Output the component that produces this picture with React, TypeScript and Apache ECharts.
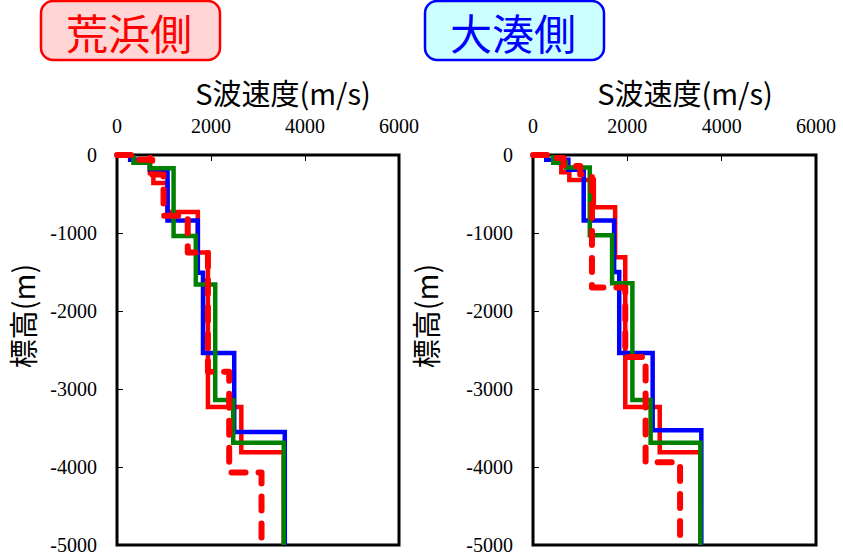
import React, { useEffect, useRef } from "react";
import * as echarts from "echarts";

// ---- data (depth boundaries in m, S-wave velocity in m/s) ----
const xTickValues = [0, 2000, 4000, 6000];
const yTickValues = [0, -1000, -2000, -3000, -4000, -5000];

// 荒浜側
const leftBlueDepths = [0, -60, -190, -840, -1510, -2540, -3550, -5000];
const leftBlueVel = [280, 700, 1075, 1720, 1830, 2494, 3570];
const leftGreenDepths = [0, -100, -170, -1040, -1660, -3140, -3690, -5000];
const leftGreenVel = [350, 700, 1204, 1677, 2090, 2473, 3548];
const leftRedDepths = [0, -230, -360, -730, -1250, -3230, -3810, -5000];
const leftRedVel = [700, 774, 1075, 1720, 1935, 2645, 3548];
const leftRedDashDepths = [0, -60, -250, -780, -1250, -2780, -4070, -5000];
const leftRedDashVel = [400, 750, 990, 1505, 1935, 2387, 3075];

// 大湊側
const rightBlueDepths = [0, -60, -190, -840, -1500, -2540, -3530, -5000];
const rightBlueVel = [280, 750, 1075, 1720, 1828, 2537, 3569];
const rightGreenDepths = [0, -100, -160, -1030, -1645, -3140, -3690, -5000];
const rightGreenVel = [430, 700, 1204, 1677, 2107, 2494, 3548];
const rightRedDepths = [0, -220, -320, -670, -1310, -3230, -3810, -5000];
const rightRedVel = [600, 770, 1290, 1741, 1956, 2687, 3548];
const rightRedDashDepths = [0, -40, -140, -250, -1700, -2590, -3940, -5000];
const rightRedDashVel = [350, 650, 1000, 1250, 1956, 2387, 3118];

function steps(depths: number[], vel: number[], fromOrigin = false) {
  const pts: number[][] = [];
  if (fromOrigin) pts.push([0, 0]);
  for (let i = 0; i < vel.length; i++) {
    pts.push([vel[i], depths[i]]);
    pts.push([vel[i], depths[i + 1]]);
  }
  return pts;
}

const serifFont = "Liberation Serif";
const jpFont = "Noto Sans CJK JP";

export default function App() {
  const ref = useRef<HTMLDivElement>(null);
  useEffect(() => {
    if (!ref.current) return;
    const chart = echarts.init(ref.current, undefined, { renderer: "svg" });

    const grids = [
      { left: 117, top: 155, width: 282, height: 390 },
      { left: 533, top: 155, width: 283, height: 390 },
    ];

    const xAxes = grids.map((_, i) => ({
      type: "value",
      gridIndex: i,
      position: "top",
      min: 0,
      max: 6000,
      interval: 2000,
      axisLine: { show: false },
      axisTick: { show: true, inside: true, length: 6, lineStyle: { color: "#000", width: 1 } },
      axisLabel: {
        show: true,
        margin: 19,
        color: "#000",
        fontSize: 20,
        fontFamily: serifFont,
        formatter: (v: number) => (xTickValues.includes(v) ? String(v) : ""),
      },
      splitLine: { show: false },
    }));

    const yAxes = grids.map((_, i) => ({
      type: "value",
      gridIndex: i,
      min: -5000,
      max: 0,
      interval: 1000,
      axisLine: { show: false },
      axisTick: { show: true, inside: true, length: 6, lineStyle: { color: "#000", width: 1 } },
      axisLabel: {
        show: true,
        margin: 20,
        color: "#000",
        fontSize: 20,
        fontFamily: serifFont,
        formatter: (v: number) => (yTickValues.includes(v) ? String(v) : ""),
      },
      splitLine: { show: false },
    }));

    const solid = (color: string, width = 4.5) => ({
      color,
      width,
      type: "solid",
      join: "miter",
      cap: "butt",
    });
    const dashed = {
      color: "#FF0000",
      width: 6,
      type: [14, 13],
      cap: "round",
      join: "round",
    };

    const mk = (idx: number, data: number[][], lineStyle: any, z: number) => ({
      type: "line",
      xAxisIndex: idx,
      yAxisIndex: idx,
      data,
      showSymbol: false,
      symbol: "none",
      lineStyle,
      z,
      silent: true,
    });

    const series = [
      mk(0, steps(leftRedDepths, leftRedVel), solid("#FF0000"), 2),
      mk(0, steps(leftBlueDepths, leftBlueVel), solid("#0000FF"), 3),
      mk(0, steps(leftGreenDepths, leftGreenVel), solid("#008000"), 4),
      mk(0, steps(leftRedDashDepths, leftRedDashVel, true), dashed, 5),
      mk(1, steps(rightRedDepths, rightRedVel), solid("#FF0000"), 2),
      mk(1, steps(rightBlueDepths, rightBlueVel), solid("#0000FF"), 3),
      mk(1, steps(rightGreenDepths, rightGreenVel), solid("#008000"), 4),
      mk(1, steps(rightRedDashDepths, rightRedDashVel, true), dashed, 5),
    ];

    const titleStyle = (text: string) => ({
      text,
      fill: "#000",
      fontSize: 29,
      fontFamily: jpFont,
      align: "center",
      verticalAlign: "middle",
    });

    chart.setOption({
      animation: false,
      backgroundColor: "#fff",
      grid: grids.map((g) => ({
        ...g,
        show: true,
        borderColor: "#000",
        borderWidth: 3,
        backgroundColor: "transparent",
      })),
      xAxis: xAxes,
      yAxis: yAxes,
      series,
      graphic: [
        {
          type: "rect",
          shape: { x: 41, y: 1, width: 179, height: 59, r: 12 },
          style: { fill: "#FFD5D5", stroke: "#FF0000", lineWidth: 2.5 },
        },
        {
          type: "text",
          x: 129,
          y: 31,
          style: {
            text: "荒浜側",
            fill: "#FF0000",
            fontSize: 42,
            fontFamily: jpFont,
            align: "center",
            verticalAlign: "middle",
          },
        },
        {
          type: "rect",
          shape: { x: 425, y: 1, width: 179, height: 59, r: 12 },
          style: { fill: "#CCFFFF", stroke: "#0000FF", lineWidth: 2.5 },
        },
        {
          type: "text",
          x: 513,
          y: 31,
          style: {
            text: "大湊側",
            fill: "#0000FF",
            fontSize: 42,
            fontFamily: jpFont,
            align: "center",
            verticalAlign: "middle",
          },
        },
        { type: "text", x: 283, y: 92, style: titleStyle("S波速度(m/s)") },
        { type: "text", x: 685, y: 92, style: titleStyle("S波速度(m/s)") },
        { type: "text", x: 22, y: 316, rotation: Math.PI / 2, style: titleStyle("標高(m)") },
        { type: "text", x: 425, y: 316, rotation: Math.PI / 2, style: titleStyle("標高(m)") },
      ],
    });

    return () => chart.dispose();
  }, []);

  return (
    <div
      ref={ref}
      style={{ position: "fixed", left: 0, top: 0, width: 843, height: 557 }}
    />
  );
}
